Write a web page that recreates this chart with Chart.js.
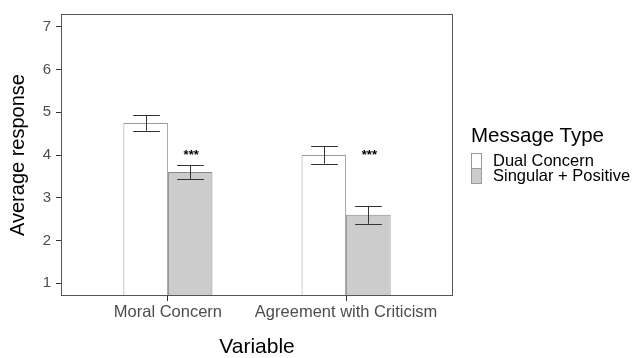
<!DOCTYPE html>
<html>
<head>
<meta charset="utf-8">
<script src="https://cdn.jsdelivr.net/npm/chart.js@4"></script>
<style>
  body { margin: 0; background: #fff; }
  #wrap { position: relative; width: 633px; height: 358px; }
  .legend { position: absolute; left: 471px; font-family: "Liberation Sans", Arial, sans-serif; color: #000; white-space: nowrap; }
  .legend-title { top: 124px; font-size: 20.5px; line-height: 21px; }
  .legend-row { position: absolute; left: 471px; height: 15px; font-family: "Liberation Sans", Arial, sans-serif; font-size: 16.5px; line-height: 15px; white-space: nowrap; }
  .legend-row span.box { position: absolute; left: 0; top: 0; width: 9px; height: 14px; border: 1px solid #999; box-sizing: content-box; }
  .legend-row span.lbl { position: absolute; left: 22px; top: 0; }
</style>
</head>
<body>
<div id="wrap">
  <canvas id="barChart"></canvas>
  <div class="legend legend-title">Message Type</div>
  <div id="legendRows"></div>
</div>
<script>
// data
const categories = ["Moral Concern", "Agreement with Criticism"];
const categoryPos = [1, 2];
const seriesNames = ["Dual Concern", "Singular + Positive"];
const dualMeans = [4.75, 4.0];
const dualErr = [0.18, 0.2];
const singularMeans = [3.605, 2.6];
const singularErr = [0.165, 0.21];
const sigLabels = ["***", "***"];
const sigY = [3.9, 3.9];
const yTicks = [1, 2, 3, 4, 5, 6, 7];

const fillColors = ["#ffffff", "#cccccc"];
const edgeColors = ["#999999", "#888888"];
const fontFam = '"Liberation Sans", Arial, sans-serif';

Chart.defaults.font.family = fontFam;

// legend (html)
const rows = document.getElementById("legendRows");
seriesNames.forEach(function (name, i) {
	const row = document.createElement("div");
	row.className = "legend-row";
	row.style.top = (153 + i * 15) + "px";
	row.innerHTML = '<span class="box" style="background:' + fillColors[i] + '"></span><span class="lbl">' + name + "</span>";
	rows.appendChild(row);
});

// full box round the panel
const panelBox = {
	id: "panelBox",
	afterDraw(chart) {
		const a = chart.chartArea;
		const ctx = chart.ctx;
		const l = Math.round(a.left) + 0.5, t = Math.round(a.top) + 0.5;
		const r = Math.round(a.right) - 0.5, b = Math.round(a.bottom) - 0.5;
		ctx.save();
		ctx.strokeStyle = "#555555";
		ctx.lineWidth = 1;
		ctx.strokeRect(l, t, r - l, b - t);
		ctx.restore();
	},
};

const errBars = {
	id: "errBars",
	afterDatasetsDraw(chart) {
		const ctx = chart.ctx;
		const y = chart.scales.y;
		const errs = [dualErr, singularErr];
		ctx.save();
		ctx.strokeStyle = "#333333";
		ctx.lineWidth = 1;
		chart.data.datasets.forEach(function (ds, d) {
			const meta = chart.getDatasetMeta(d);
			meta.data.forEach(function (bar, i) {
				const mean = ds.data[i].y;
				const top = y.getPixelForValue(mean + errs[d][i]);
				const bot = y.getPixelForValue(mean - errs[d][i]);
				const half = bar.width * 0.3;
				const x = Math.round(bar.x) + 0.5;
				ctx.beginPath();
				ctx.moveTo(x, top);
				ctx.lineTo(x, bot);
				ctx.moveTo(x - half, Math.round(top) + 0.5);
				ctx.lineTo(x + half, Math.round(top) + 0.5);
				ctx.moveTo(x - half, Math.round(bot) + 0.5);
				ctx.lineTo(x + half, Math.round(bot) + 0.5);
				ctx.stroke();
			});
		});
		// significance stars over the second series
		const meta = chart.getDatasetMeta(1);
		ctx.fillStyle = "#000";
		ctx.font = "bold 13px " + fontFam;
		ctx.textAlign = "center";
		ctx.textBaseline = "alphabetic";
		meta.data.forEach(function (bar, i) {
			ctx.fillText(sigLabels[i], bar.x + 1, y.getPixelForValue(sigY[i]));
		});
		ctx.restore();
	},
};

const ctx = document.getElementById("barChart").getContext("2d");
const myChart = new Chart(ctx, {
	type: "bar",
	data: {
		datasets: [
			{
				label: seriesNames[0],
				data: categoryPos.map((x, i) => ({ x: x, y: dualMeans[i] })),
				backgroundColor: fillColors[0],
				borderColor: edgeColors[0],
				borderWidth: 1,
			},
			{
				label: seriesNames[1],
				data: categoryPos.map((x, i) => ({ x: x, y: singularMeans[i] })),
				backgroundColor: fillColors[1],
				borderColor: edgeColors[1],
				borderWidth: 1,
			},
		],
	},
	options: {
		responsive: true,
		maintainAspectRatio: false,
		animation: false,
		categoryPercentage: 0.5,
		barPercentage: 1,
		layout: { padding: { top: 12, right: 180, left: 0, bottom: 0 } },
		plugins: {
			legend: { display: false },
			tooltip: { enabled: false },
		},
		scales: {
			x: {
				type: "linear",
				min: 0.4,
				max: 2.6,
				offset: false,
				afterBuildTicks: (s) => { s.ticks = categoryPos.map((v) => ({ value: v })); },
				afterFit: (s) => { s.height = 62; },
				ticks: {
					callback: (v, i) => categories[i],
					autoSkip: false,
					maxRotation: 0,
					padding: 2,
					color: "#4d4d4d",
					font: { size: 16.5 },
				},
				grid: { drawOnChartArea: false, offset: false, tickLength: 5, tickColor: "#333333" },
				border: { display: false },
				title: {
					display: true,
					text: "Variable",
					color: "#000",
					font: { size: 21, lineHeight: 1 },
					padding: { top: 0, bottom: 0.5 },
				},
			},
			y: {
				min: 0.7,
				max: 7.3,
				afterBuildTicks: (s) => { s.ticks = yTicks.map((v) => ({ value: v })); },
				afterFit: (s) => { s.width = 61; },
				ticks: {
					color: "#4d4d4d",
					padding: 5,
					font: { size: 15 },
				},
				grid: { drawOnChartArea: false, tickLength: 5, tickColor: "#333333" },
				border: { display: false },
				title: {
					display: true,
					text: "Average response",
					color: "#000",
					font: { size: 20, lineHeight: 1 },
					padding: { top: 8, bottom: 0 },
				},
			},
		},
	},
	plugins: [panelBox, errBars],
});
</script>
</body>
</html>
